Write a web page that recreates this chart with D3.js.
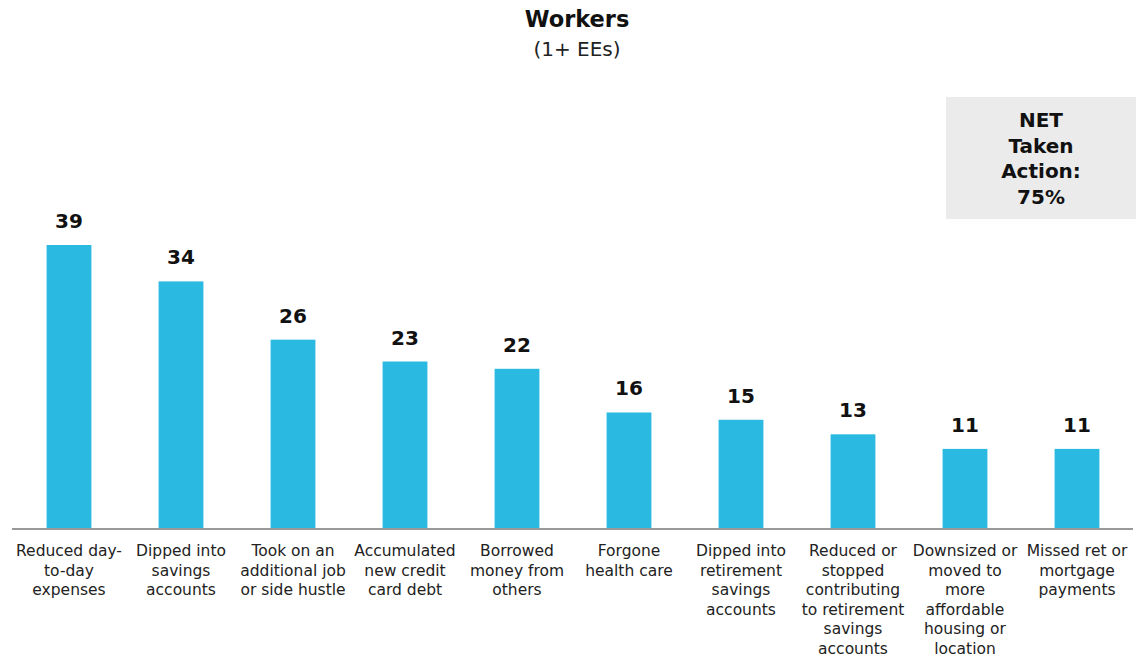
<!DOCTYPE html>
<html>
<head>
<meta charset="utf-8">
<script src="https://cdn.jsdelivr.net/npm/d3@7"></script>
<style>
  html, body { margin: 0; padding: 0; background: #fff; }
  svg { display: block; }
  text { font-family: "DejaVu Sans", sans-serif; }
</style>
</head>
<body>
<svg id="chart" width="1141" height="656"></svg>
<script>
// Share of workers who took each action (%)
const categories = [
  "Reduced day-|to-day|expenses",
  "Dipped into|savings|accounts",
  "Took on an|additional job|or side hustle",
  "Accumulated|new credit|card debt",
  "Borrowed|money from|others",
  "Forgone|health care",
  "Dipped into|retirement|savings|accounts",
  "Reduced or|stopped|contributing|to retirement|savings|accounts",
  "Downsized or|moved to|more|affordable|housing or|location",
  "Missed ret or|mortgage|payments"
];
const values = [39, 34, 26, 23, 22, 16, 15, 13, 11, 11];
const titleLines = ["Workers", "(1+ EEs)"];
const netLines = ["NET", "Taken", "Action:", "75%"];

const svg = d3.select("#chart");
const baseY = 529;

const x = d3.scaleBand()
  .domain(d3.range(categories.length))
  .range([13, 1133])
  .paddingInner(0.6)
  .paddingOuter(0.3);

const y = d3.scaleLinear()
  .domain([0, 39])
  .range([baseY, 245]);

// Title
svg.append("text")
  .attr("x", 577).attr("y", 27)
  .attr("text-anchor", "middle")
  .attr("font-size", 22.5).attr("font-weight", "bold")
  .attr("fill", "#111")
  .text(titleLines[0]);
svg.append("text")
  .attr("x", 577).attr("y", 56)
  .attr("text-anchor", "middle")
  .attr("font-size", 20)
  .attr("fill", "#222")
  .text(titleLines[1]);

// NET callout box
svg.append("rect")
  .attr("x", 946).attr("y", 97)
  .attr("width", 190).attr("height", 122)
  .attr("fill", "#ebebeb");
svg.append("g").selectAll("text")
  .data(netLines)
  .join("text")
  .attr("x", 1041)
  .attr("y", (d, i) => 127 + i * 25.5)
  .attr("text-anchor", "middle")
  .attr("font-size", 20).attr("font-weight", "bold")
  .attr("fill", "#111")
  .text(d => d);

// Bars
svg.append("g").selectAll("rect")
  .data(values)
  .join("rect")
  .attr("x", (d, i) => x(i))
  .attr("y", d => y(d))
  .attr("width", x.bandwidth())
  .attr("height", d => baseY - y(d))
  .attr("fill", "#29b9e1");

// Value labels
svg.append("g").selectAll("text")
  .data(values)
  .join("text")
  .attr("x", (d, i) => x(i) + x.bandwidth() / 2)
  .attr("y", d => y(d) - 17)
  .attr("text-anchor", "middle")
  .attr("font-size", 20).attr("font-weight", "bold")
  .attr("fill", "#111")
  .text(d => d);

// Category axis
const axis = d3.axisBottom(x).tickSize(0).tickFormat("");
const gAxis = svg.append("g")
  .attr("transform", `translate(0,${baseY})`)
  .call(axis);
gAxis.select(".domain")
  .attr("d", "M12,0H1133")
  .attr("stroke", "#999")
  .attr("stroke-width", 2);

gAxis.selectAll(".tick").each(function(d) {
  const t = d3.select(this).append("text")
    .attr("text-anchor", "middle")
    .attr("font-size", 15.5)
    .attr("fill", "#222");
  categories[d].split("|").forEach((line, j) => {
    t.append("tspan")
      .attr("x", 0)
      .attr("y", 27 + j * 19.5)
      .text(line);
  });
});
</script>
</body>
</html>
